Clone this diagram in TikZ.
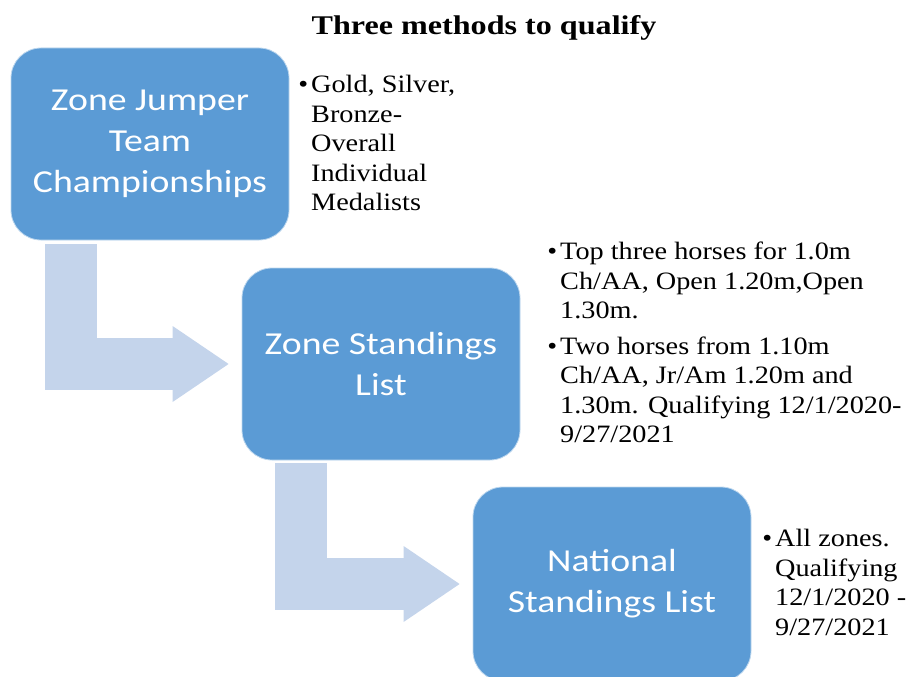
\documentclass[tikz,border=0pt]{standalone}
\usepackage{fontspec}
\setmainfont[FakeStretch=1.19]{Liberation Serif}
\newfontfamily\notefont[FakeStretch=1.13]{Liberation Serif}
\newfontfamily\boxfont[FakeStretch=1.18]{Carlito}
\usepackage{tikz}
\usetikzlibrary{arrows.meta,calc,positioning}
\definecolor{boxblue}{RGB}{91,155,213}
\definecolor{bendblue}{RGB}{196,212,235}
\newcommand\bul{\llap{\textbullet\hspace{3pt}}}

\begin{document}
\begin{tikzpicture}[x=1pt,y=-1pt,
    stagebox/.style={rectangle, rounded corners=30pt, fill=boxblue, draw=white!60!boxblue,
      line width=0.8pt, minimum width=278pt, minimum height=192pt, align=center,
      text=white, font=\boxfont\fontsize{32}{41}\selectfont, inner sep=0pt},
    bendarrow/.style={draw=bendblue, line width=52pt, line join=miter,
      -{Triangle[width=76pt,length=56pt,line width=0pt]}, shorten >=13pt},
    notes/.style={anchor=north west, align=left, inner sep=0pt,
      font=\notefont\fontsize{25}{29.5}\selectfont}]
  \useasboundingbox (0,0) rectangle (914,677);

  \node[font=\bfseries\fontsize{27}{30}\selectfont] (title) at (484,28) {Three methods to qualify};

  % the three stages
  \node[stagebox] (zjt) at (150,144) {Zone Jumper\\Team\\Championships};
  \node[stagebox] (zsl) at (381,364) {Zone Standings\\List};
  \node[stagebox, minimum height=194pt] (nsl) at (612,584) {National\\Standings List};

  % bent arrows between the stages
  \coordinate (zjtout) at ($(zjt.south west)+(60,4)$);
  \coordinate (zslout) at ($(zsl.south west)+(59,3)$);
  \draw[bendarrow] (zjtout) |- (zsl.west);
  \draw[bendarrow] (zslout) |- (nsl.west);

  % qualifying notes
  \node[notes] (zjtnote) at (311,75) {\bul Gold, Silver,\\Bronze-\\Overall\\Individual\\Medalists};
  \node[notes] (zslnote) at (560,242) {\bul Top three horses for 1.0m\\Ch/AA, Open 1.20m,Open\\1.30m.\\[6pt]
    \bul Two horses from 1.10m\\Ch/AA, Jr/Am 1.20m and\\1.30m. Qualifying 12/1/2020-\\9/27/2021};
  \node[notes] (nslnote) at (775,529) {\bul All zones.\\Qualifying\\12/1/2020 -\\9/27/2021};
\end{tikzpicture}
\end{document}
